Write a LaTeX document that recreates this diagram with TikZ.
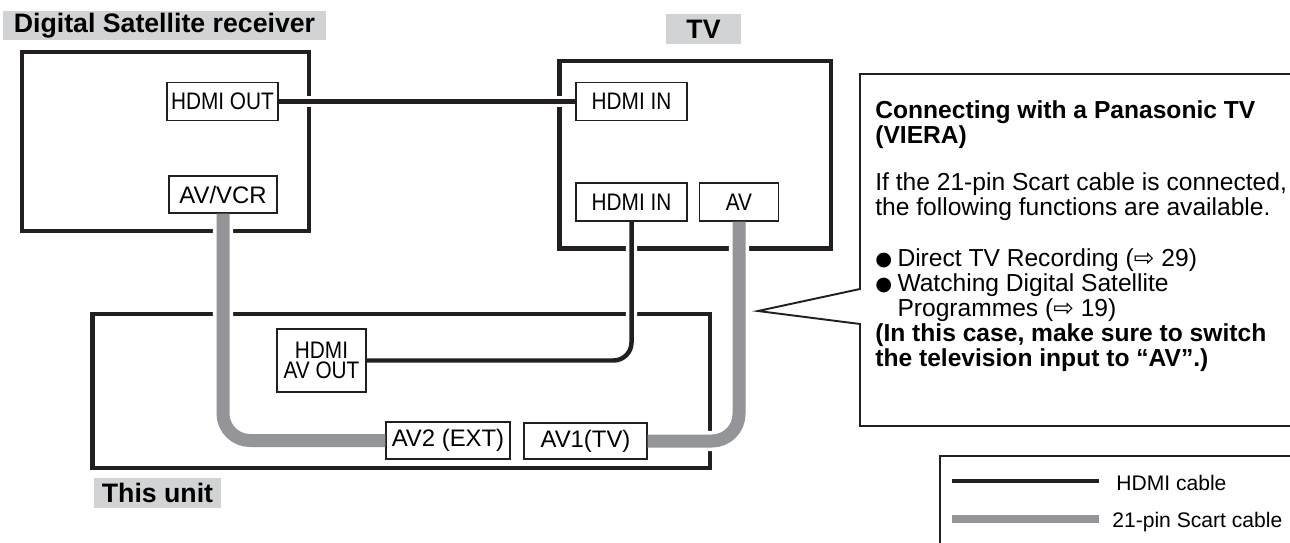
\documentclass[tikz,border=0pt]{standalone}
\usepackage{fontspec}
\setmainfont{Liberation Sans}
\newfontfamily\narrowfont{Liberation Sans}[FakeStretch=0.87]
\newfontfamily\arrowfont{DejaVu Sans}
\definecolor{ink}{HTML}{231F20}
\definecolor{scart}{HTML}{939598}
\definecolor{tag}{HTML}{D1D3D4}
\newcommand{\blt}{\raisebox{0.6pt}{\arrowfont\fontsize{11pt}{11pt}\selectfont ●}\hspace{3pt}}
\newcommand{\seeref}{{\arrowfont ⇨}}
\newcommand{\tightlines}{\lineskiplimit=-20pt\lineskip=0pt\relax}

\begin{document}
\begin{tikzpicture}[x=0.02cm, y=-0.02cm,
  box/.style={draw=ink, line width=2.55pt, rectangle, inner sep=0pt},
  port/.style={draw=ink, line width=0.8pt, fill=white, rectangle, inner sep=0pt,
    minimum height=0.76cm, font=\fontsize{13.6pt}{13.6pt}\selectfont},
  nport/.style={port, font=\fontsize{13.6pt}{11.5pt}\narrowfont},
  tagged/.style={fill=tag, inner sep=0pt, font=\fontsize{15.2pt}{15.2pt}\selectfont\bfseries},
  hdmi/.style={draw=ink, line width=2.55pt, rounded corners=0.36cm,
    preaction={draw=white, line width=6.5pt, shorten <=1pt, shorten >=1pt}},
  scartc/.style={draw=scart, line width=7.4pt, rounded corners=0.54cm,
    preaction={draw=white, line width=11.4pt, shorten <=1pt, shorten >=1pt}}]

  \useasboundingbox (0,0) rectangle (1290,543);

  % the three devices
  \node[box, minimum width=5.74cm, minimum height=3.58cm] (sat) at (165.5,141.5) {};
  \node[box, minimum width=5.43cm, minimum height=3.75cm] (tv) at (695.25,154.75) {};
  \node[box, minimum width=12.35cm, minimum height=3.08cm] (unit) at (401.25,391) {};

  % grey name tags
  \node[tagged, minimum width=6.46cm, minimum height=0.58cm] (satlbl) at (164.5,25.5) {Digital Satellite receiver};
  \node[tagged, minimum width=1.5cm, minimum height=0.6cm] (tvlbl) at (703.5,29) {TV};
  \node[tagged, minimum width=2.54cm, minimum height=0.6cm] (unitlbl) at (157.5,493) {This unit};

  % terminals
  \node[nport, minimum width=2.22cm] (hdmiout) at (222.5,101.5) {HDMI OUT};
  \node[port, minimum width=2.16cm, minimum height=0.74cm] (avvcr) at (223,194.5) {AV/VCR};
  \node[nport, minimum width=2.22cm] (hdmiin) at (631.5,101.5) {HDMI IN};
  \node[nport, minimum width=2.22cm] (tvhdmi) at (631.5,202) {HDMI IN};
  \node[nport, minimum width=1.58cm] (tvav) at (739,202) {AV};
  \node[nport, minimum width=1.78cm, minimum height=1.26cm, align=center] (avout) at (321.5,360.5) {HDMI\\AV OUT};
  \node[port, minimum width=2.48cm, minimum height=0.74cm] (avtwo) at (448,440.5) {AV2 (EXT)};
  \node[port, minimum width=2.46cm, minimum height=0.72cm] (avone) at (585.5,441) {AV1(TV)};

  % cables
  \draw[hdmi] (hdmiout) -- (hdmiin);
  \draw[hdmi] (tvhdmi.south) |- (avout.east);
  \draw[scartc] (avvcr.south) |- (avtwo.west);
  \draw[scartc] (avone.east) -| (tvav.south);

  % VIERA callout
  \draw[ink, line width=1.1pt] (1292,74) -- (860,74) -- (860,289) -- (758,311)
    -- (860,324) -- (860,426) -- (1292,426);
  \node[anchor=north west, align=left, inner sep=0pt,
    font=\fontsize{14pt}{14.2pt}\selectfont\tightlines] (note) at (875,100.5)
    {\textbf{Connecting with a Panasonic TV}\\
     \textbf{(VIERA)}\\[12.5pt]
     If the 21-pin Scart cable is connected,\\
     the following functions are available.\\[14.7pt]
     \blt Direct TV Recording (\seeref\ 29)\\
     \blt Watching Digital Satellite\\
     \hphantom{\blt}Programmes (\seeref\ 19)\\
     \textbf{(In this case, make sure to switch}\\
     \textbf{the television input to “AV”.)}};

  % legend
  \draw[ink, line width=0.8pt] (1292,456) -- (940,456) -- (940,545);
  \coordinate (hdmikey) at (952,481);
  \coordinate (hdmikeyend) at (1099,481);
  \coordinate (scartkey) at (952,519);
  \coordinate (scartkeyend) at (1099,519);
  \draw[ink, line width=2pt] (hdmikey) -- (hdmikeyend);
  \draw[scart, line width=4.5pt] (scartkey) -- (scartkeyend);
  \node[anchor=base west, inner sep=0pt, font=\fontsize{12pt}{12pt}\selectfont] (hdmitxt) at (1116,490) {HDMI cable};
  \node[anchor=base west, inner sep=0pt, font=\fontsize{12pt}{12pt}\selectfont] (scarttxt) at (1112,527) {21-pin Scart cable};

\end{tikzpicture}
\end{document}
